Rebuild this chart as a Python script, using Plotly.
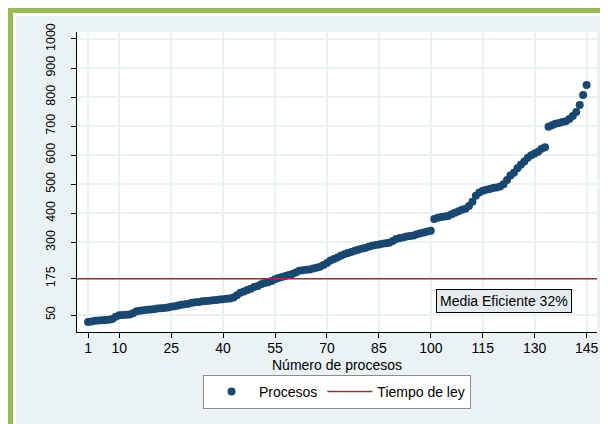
import plotly.graph_objects as go

# Data
procesos_idx = list(range(1, 146))
procesos_val = [
    26, 28, 30, 31, 32, 33, 34, 36, 44, 49,
    50, 51, 52, 56, 63, 65, 66, 68, 69, 70,
    72, 73, 74, 76, 78, 80, 83, 85, 87, 89,
    92, 94, 95, 97, 98, 99, 101, 102, 103, 104,
    106, 107, 110, 118, 127, 131, 136, 140, 146, 150,
    156, 160, 163, 167, 173, 177, 181, 184, 188, 191,
    196, 202, 204, 206, 207, 210, 213, 216, 222, 229,
    238, 243, 248, 254, 259, 263, 267, 271, 275, 278,
    281, 285, 288, 291, 293, 295, 297, 299, 305, 312,
    315, 317, 320, 322, 324, 328, 331, 334, 337, 340,
    380, 385, 387, 389, 391, 397, 402, 407, 412, 416,
    425, 440, 460, 472, 478, 481, 484, 487, 489, 492,
    500, 515, 530, 540, 555, 567, 578, 591, 600, 606,
    612, 622, 627, 698, 703, 708, 711, 714, 717, 725,
    735, 749, 773, 807, 842,
]
tiempo_ley = 175
ley_x = [-2.2, 148.0]
ley_y = [tiempo_ley, tiempo_ley]

x_ticks = [1, 10, 25, 40, 55, 70, 85, 100, 115, 130, 145]
y_ticks = [50, 175, 300, 400, 500, 600, 700, 800, 900, 1000]
anot_text = "Media Eficiente 32%"
x_title = "Número de procesos"

W, H = 600, 416
OFF = 8  # page body margin
L, R, T, B = 69, 11, 24, 92
PW, PH = W - L - R, H - T - B


def px(xp):
    return (xp - OFF - L) / PW


def py(yp):
    return (H - B - (yp - OFF)) / PH


FONT = "Liberation Sans, Arial, sans-serif"
NAVY = "#1A476F"
MAROON = "#90353B"
BG = "#EAF2F3"
GREEN = "#9BBB59"

fig = go.Figure()
fig.add_trace(go.Scatter(
    x=procesos_idx, y=procesos_val, mode="markers", name="Procesos",
    marker=dict(color=NAVY, size=8, line=dict(width=0)),
))
fig.add_trace(go.Scatter(
    x=ley_x, y=ley_y, mode="lines", name="Tiempo de ley",
    line=dict(color=MAROON, width=1.5),
))

shapes = [
    dict(type="rect", xref="paper", yref="paper", layer="below",
         x0=px(16), x1=px(OFF + W + 2), y0=py(OFF + H + 2), y1=py(16),
         fillcolor=BG, line=dict(width=0)),
    dict(type="rect", xref="paper", yref="paper", layer="below",
         x0=0, x1=1, y0=0, y1=1, fillcolor="white", line=dict(width=0)),
    dict(type="rect", xref="paper", yref="paper", layer="below",
         x0=px(OFF), x1=px(OFF + W + 2), y0=py(13), y1=py(OFF),
         fillcolor=GREEN, line=dict(width=0)),
    dict(type="rect", xref="paper", yref="paper", layer="below",
         x0=px(OFF), x1=px(13), y0=py(OFF + H + 2), y1=py(OFF),
         fillcolor=GREEN, line=dict(width=0)),
]

fig.update_layout(
    width=W, height=H,
    margin=dict(l=L, r=R, t=T, b=B, autoexpand=False),
    paper_bgcolor="white", plot_bgcolor="white",
    font=dict(family=FONT, size=14, color="black"),
    shapes=shapes,
    showlegend=True,
    legend=dict(
        orientation="h", x=0.5, xanchor="center", y=py(375), yanchor="top",
        bgcolor="white", bordercolor="#8C8C8C", borderwidth=1,
        font=dict(family=FONT, size=14, color="black"),
        itemwidth=45, tracegroupgap=0,
    ),
    annotations=[
        dict(x=121, y=98, xref="x", yref="y", text=anot_text, showarrow=False,
             font=dict(family=FONT, size=14, color="black"),
             bgcolor="#E4ECF0", bordercolor="black", borderwidth=1, borderpad=3),
        dict(x=0.5, y=py(365), xref="paper", yref="paper", text=x_title,
             showarrow=False, xanchor="center", yanchor="middle",
             font=dict(family=FONT, size=14, color="black")),
    ],
)

fig.update_xaxes(
    range=[-2.2, 148.0], tickmode="array", tickvals=x_ticks,
    showgrid=True, gridcolor=BG, gridwidth=2, zeroline=False,
    showline=True, linecolor="black", linewidth=1,
    ticks="outside", ticklen=5, tickcolor="black",
    tickfont=dict(family=FONT, size=14), ticklabelstandoff=-2,
)
fig.update_yaxes(
    range=[-8.5, 1024], tickmode="array", tickvals=y_ticks,
    showgrid=True, gridcolor=BG, gridwidth=2, zeroline=False,
    showline=True, linecolor="black", linewidth=1,
    ticks="outside", ticklen=5, tickcolor="black",
    tickangle=-90, tickfont=dict(family=FONT, size=12.5),
    ticklabelstandoff=11,
)

fig.write_html("out.html")
